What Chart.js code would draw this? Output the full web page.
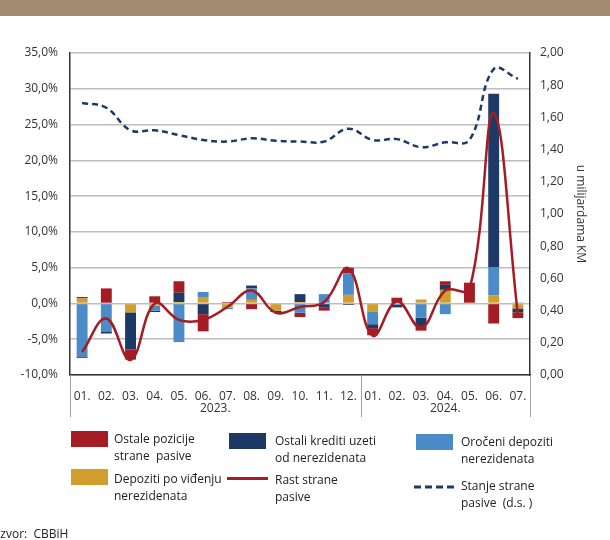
<!DOCTYPE html>
<html><head><meta charset="utf-8">
<script src="https://cdn.jsdelivr.net/npm/chart.js@4.4.1/dist/chart.umd.min.js"></script>
<style>
html,body{margin:0;padding:0;background:#fff;}
#wrap{position:relative;width:610px;height:540px;overflow:hidden;font-family:"Open Sans",sans-serif;color:#222;}
#band{position:absolute;left:0;top:0;width:610px;height:16px;background:#A38B6F;}
canvas{position:absolute;left:0;top:0;}
.sw{position:absolute;width:37px;height:16px;}
.lt{position:absolute;font-size:12px;line-height:17px;white-space:pre;color:#222;}
</style></head>
<body><div id="wrap"><div id="band"></div><canvas id="c" width="610" height="540"></canvas>
<div class="sw" style="left:71px;top:431px;background:#A51C24"></div>
<div class="lt" style="left:114px;top:430px">Ostale pozicije
strane  pasive</div>
<div class="sw" style="left:229px;top:433px;background:#1D3A66"></div>
<div class="lt" style="left:275px;top:432px">Ostali krediti uzeti
od nerezidenata</div>
<div class="sw" style="left:416px;top:434px;background:#4A8BC8"></div>
<div class="lt" style="left:461px;top:433px">Oročeni depoziti
nerezidenata</div>
<div class="sw" style="left:71px;top:469px;background:#D19E2E"></div>
<div class="lt" style="left:114px;top:470px">Depoziti po viđenju
nerezidenata</div>
<div style="position:absolute;left:227px;top:477px;width:41px;height:3px;background:#A51C24"></div>
<div class="lt" style="left:275px;top:471px">Rast strane
pasive</div>
<svg style="position:absolute;left:414px;top:484px" width="40" height="6"><line x1="0" y1="3" x2="40" y2="3" stroke="#1D3A66" stroke-width="3" stroke-dasharray="7,4"/></svg>
<div class="lt" style="left:461px;top:477px">Stanje strane
pasive  (d.s. )</div>
<div class="lt" style="left:-3px;top:525px">Izvor:  CBBiH</div>
</div>
<script>
const months = ["01.","02.","03.","04.","05.","06.","07.","08.","09.","10.","11.","12.","01.","02.","03.","04.","05.","06.","07."];
const years = ["2023.","2024."];
const yearSpans = [12,7];
const depozitiPoVidjenju = [0.7,0.1,-1.25,-0.3,0.2,0.9,-0.6,0.5,-1.0,0.2,0,1.2,-1.1,0,0.55,1.9,0,1.15,-0.7];
const oroceniDepoziti   = [-7.4,-3.9,0,-0.7,-5.4,0.7,-0.2,1.6,0,-1.3,1.3,3.0,-1.8,-0.2,-2.0,-1.5,0,3.95,0.15];
const ostaliKrediti     = [-0.2,-0.3,-5.2,-0.2,1.3,-1.5,0,0.4,-0.2,1.1,-0.6,-0.2,-0.55,-0.35,-1.2,0.7,0,24.2,-0.55];
const ostalePozicije    = [0.2,2.0,-1.4,1.0,1.6,-2.4,0.2,-0.8,0,-0.6,-0.4,0.8,-1.0,0.8,-0.6,0.5,2.9,-2.8,-0.8];
const rastStranePasive  = [-6.8,-2.1,-7.9,0.0,-2.3,-2.3,-0.5,1.8,-1.3,-0.5,0.2,4.9,-4.5,0.3,-3.4,1.8,2.0,26.6,-1.6];
const stanjeStranePasive= [1.69,1.66,1.52,1.52,1.49,1.46,1.45,1.47,1.455,1.45,1.45,1.53,1.46,1.465,1.415,1.445,1.46,1.90,1.84];

const RED="#A51C24", NAVY="#1D3A66", BLUE="#4A8BC8", YEL="#D19E2E";
const FONT='"Open Sans", sans-serif';

const yearPlugin = {
  id:'years',
  afterDraw(chart){
    const {ctx, chartArea:a} = chart;
    const step = (a.right - a.left)/months.length;
    const bounds=[a.left]; let idx=0;
    yearSpans.forEach(n=>{idx+=n; bounds.push(a.left+idx*step);});
    ctx.save();
    ctx.strokeStyle='#a0a0a0'; ctx.lineWidth=1;
    bounds.forEach(bx=>{ctx.beginPath(); ctx.moveTo(Math.round(bx)+0.5,a.bottom); ctx.lineTo(Math.round(bx)+0.5,a.bottom+42); ctx.stroke();});
    ctx.fillStyle='#333'; ctx.font='12px '+FONT; ctx.textAlign='center'; ctx.textBaseline='middle';
    years.forEach((y,i)=>ctx.fillText(y,(bounds[i]+bounds[i+1])/2, a.bottom+34));
    ctx.restore();
  }
};

const barDs = (label,data,color)=>({type:'bar',label,data,backgroundColor:color,borderWidth:0,yAxisID:'y',stack:'s',order:1,barPercentage:0.5,categoryPercentage:0.9});

new Chart(document.getElementById('c'),{
  data:{
    labels:months,
    datasets:[
      {type:'line',label:'Rast strane pasive',data:rastStranePasive,borderColor:RED,borderWidth:2.5,tension:0.4,pointRadius:0,yAxisID:'y',order:0,fill:false},
      {type:'line',label:'Stanje strane pasive (d.s.)',data:stanjeStranePasive,borderColor:NAVY,borderWidth:2.5,borderDash:[6,4],tension:0.4,pointRadius:0,yAxisID:'y1',order:0,fill:false},
      barDs('Depoziti po viđenju nerezidenata',depozitiPoVidjenju,YEL),
      barDs('Oročeni depoziti nerezidenata',oroceniDepoziti,BLUE),
      barDs('Ostali krediti uzeti od nerezidenata',ostaliKrediti,NAVY),
      barDs('Ostale pozicije strane pasive',ostalePozicije,RED)
    ]
  },
  options:{
    responsive:false, animation:false,
    layout:{padding:{top:53,right:20,bottom:0,left:0}},
    plugins:{legend:{display:false},tooltip:{enabled:false}},
    scales:{
      x:{stacked:true,
         grid:{display:false},
         border:{display:true,color:'#333',width:1.5},
         ticks:{color:'#333',font:{family:FONT,size:12},padding:6,maxRotation:0,autoSkip:false},
         afterFit(s){s.height=165;}
      },
      y:{stacked:true,position:'left',min:-10,max:35,
         ticks:{stepSize:5,color:'#333',font:{family:FONT,size:12},padding:12,
           callback:v=>v.toFixed(1).replace('.',',')+'%'},
         grid:{color:'#bdbdbd',lineWidth:1.5,drawTicks:false},
         border:{display:true,color:'#333',width:1.5},
         afterFit(s){s.width=70;}
      },
      y1:{position:'right',min:0,max:2,
         ticks:{stepSize:0.2,color:'#333',font:{family:FONT,size:12},padding:10,
           callback:v=>v.toFixed(2).replace('.',',')},
         grid:{drawOnChartArea:false,drawTicks:false},
         border:{display:true,color:'#333',width:1.5},
         title:{display:true,text:'u milijardama KM',color:'#333',font:{family:FONT,size:12},padding:2},
         afterFit(s){s.width=60;}
      }
    }
  },
  plugins:[yearPlugin]
});
</script>
</body></html>
